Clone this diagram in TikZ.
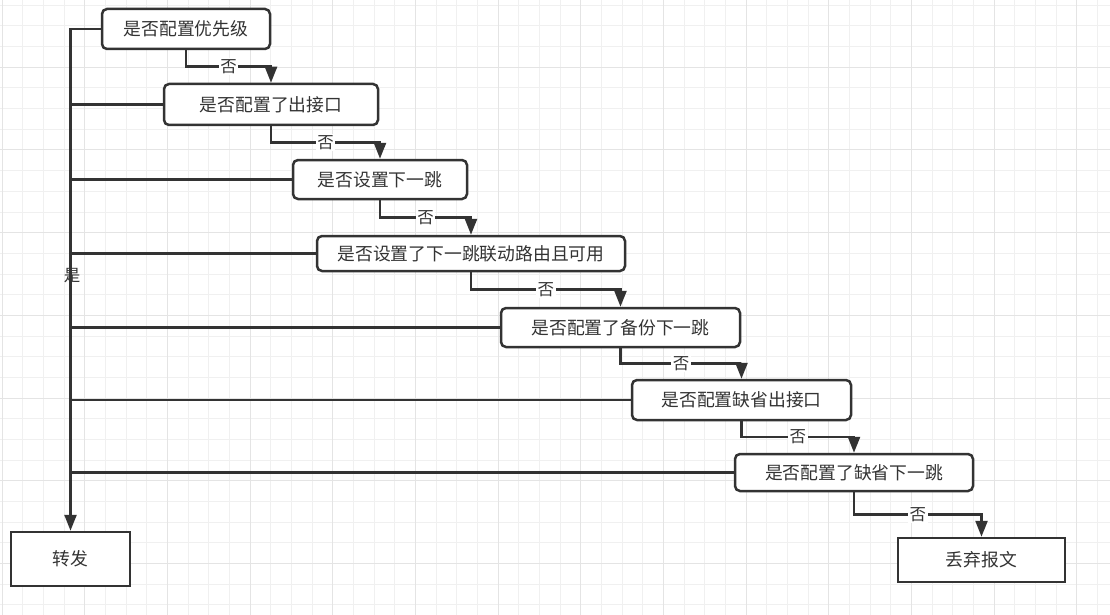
\documentclass[tikz,border=0pt]{standalone}
\usepackage{fontspec}
\newfontfamily\cjk{Noto Sans CJK SC}
\usetikzlibrary{arrows.meta,calc}

\definecolor{linec}{HTML}{333333}
\definecolor{gridminor}{HTML}{F0F0F0}
\definecolor{gridmajor}{HTML}{E4E4E4}

\tikzset{
    qbox/.style={draw=linec, line width=2.5pt, rounded corners=5pt, fill=white,
        inner sep=0pt, text=linec, font=\cjk\fontsize{17.8}{20}\selectfont},
    endbox/.style={qbox, rounded corners=0pt},
    flow/.style={draw=linec, line width=2.4pt},
    flowarr/.style={flow, -{Triangle[width=12pt,length=16pt]}},
    nolabel/.style={fill=white, inner sep=1.5pt, text=linec,
        font=\cjk\fontsize{16.5}{18}\selectfont},
    yeslabel/.style={inner sep=0pt, text=linec,
        font=\cjk\fontsize{16.5}{18}\selectfont},
}

\begin{document}
\begin{tikzpicture}[x=1pt, y=-1pt]
    \useasboundingbox (0,0) rectangle (1110,615);
    \fill[white] (0,0) rectangle (1110,615);

    % Background grid
    \foreach \gx in {0,...,53} \draw[gridminor, line width=1pt] ({2+20.67*\gx},0) -- ++(0,615);
    \foreach \gy in {0,...,29} \draw[gridminor, line width=1pt] (0,{5.3+20.67*\gy}) -- ++(1110,0);
    \foreach \gx in {0,...,13} \draw[gridmajor, line width=1pt] ({2+82.68*\gx},0) -- ++(0,615);
    \foreach \gy in {0,...,6} \draw[gridmajor, line width=1pt] (0,{67.3+82.68*\gy}) -- ++(1110,0);

    % Decision boxes (staircase)
    \node[qbox, minimum width=168pt, minimum height=40pt] (q1) at (186,29) {是否配置优先级};
    \node[qbox, minimum width=214pt, minimum height=41pt] (q2) at (271,104.5) {是否配置了出接口};
    \node[qbox, minimum width=174pt, minimum height=39pt] (q3) at (380,179.5) {是否设置下一跳};
    \node[qbox, minimum width=308pt, minimum height=35pt] (q4) at (471,253.5) {是否设置了下一跳联动路由且可用};
    \node[qbox, minimum width=239pt, minimum height=39pt] (q5) at (620.5,327.5) {是否配置了备份下一跳};
    \node[qbox, minimum width=219pt, minimum height=40pt] (q6) at (741.5,400) {是否配置缺省出接口};
    \node[qbox, minimum width=238pt, minimum height=37pt] (q7) at (854,472.5) {是否配置了缺省下一跳};

    % Results (bottom)
    \node[endbox, minimum width=119pt, minimum height=54pt] (fwd) at (70.5,559) {转发};
    \node[endbox, minimum width=167pt, minimum height=44pt] (drop) at (981.5,560) {丢弃报文};

    % Yes branch (left trunk)
    \draw[flowarr] (q1.west) -| (fwd.north);
    \draw[flow] (q2.west) -- (q2.west -| fwd.north);
    \draw[flow] (q3.west) -- (q3.west -| fwd.north);
    \draw[flow] (q4.west) -- (q4.west -| fwd.north);
    \draw[flow] (q5.west) -- (q5.west -| fwd.north);
    \draw[flow] (q6.west) -- (q6.west -| fwd.north);
    \draw[flow] (q7.west) -- (q7.west -| fwd.north);
    \node[yeslabel] (yes) at (72,276) {是};

    % No branches (steps)
    \coordinate (m1) at ($(q1.south)!.5!(q2.north)$);
    \coordinate (m2) at ($(q2.south)!.5!(q3.north)$);
    \coordinate (m3) at ($(q3.south)!.5!(q4.north)$);
    \coordinate (m4) at ($(q4.south)!.5!(q5.north)$);
    \coordinate (m5) at ($(q5.south)!.5!(q6.north)$);
    \coordinate (m6) at ($(q6.south)!.5!(q7.north)$);
    \coordinate (m7) at ($(q7.south)!.5!(drop.north)$);
    \draw[flowarr] (q1.south) -- (q1.south |- m1) -- node[nolabel] (no1) {否} (q2.north |- m1) -- (q2.north);
    \draw[flowarr] (q2.south) -- (q2.south |- m2) -- node[nolabel] (no2) {否} (q3.north |- m2) -- (q3.north);
    \draw[flowarr] (q3.south) -- (q3.south |- m3) -- node[nolabel] (no3) {否} (q4.north |- m3) -- (q4.north);
    \draw[flowarr] (q4.south) -- (q4.south |- m4) -- node[nolabel] (no4) {否} (q5.north |- m4) -- (q5.north);
    \draw[flowarr] (q5.south) -- (q5.south |- m5) -- node[nolabel] (no5) {否} (q6.north |- m5) -- (q6.north);
    \draw[flowarr] (q6.south) -- (q6.south |- m6) -- node[nolabel] (no6) {否} (q7.north |- m6) -- (q7.north);
    \draw[flowarr] (q7.south) -- (q7.south |- m7) -- node[nolabel] (no7) {否} (drop.north |- m7) -- (drop.north);

\end{tikzpicture}
\end{document}
